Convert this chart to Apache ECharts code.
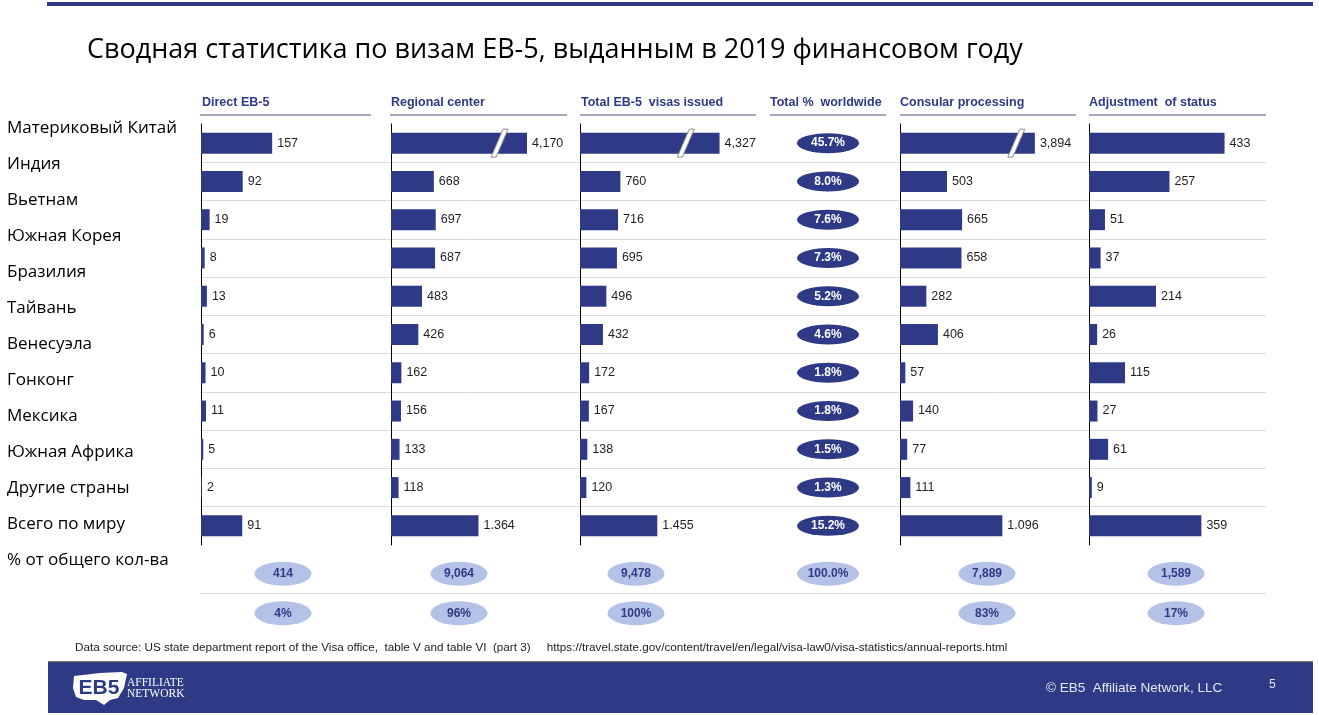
<!DOCTYPE html>
<html>
<head>
<meta charset="utf-8">
<script src="https://cdn.jsdelivr.net/npm/echarts@6/dist/echarts.min.js"></script>
<style>
  html, body { margin: 0; padding: 0; background: #fff; }
  #chart { width: 1319px; height: 715px; }
</style>
</head>
<body>
<div id="chart"></div>
<script>
// EB-5 visas, FY2019 summary slide

const countries = ['Материковый Китай', 'Индия', 'Вьетнам', 'Южная Корея', 'Бразилия', 'Тайвань',
  'Венесуэла', 'Гонконг', 'Мексика', 'Южная Африка', 'Другие страны'];
const summaryLabels = ['Всего по миру', '% от общего кол-ва'];
const columnNames = ['Direct EB-5', 'Regional center', 'Total EB-5  visas issued',
  'Total %  worldwide', 'Consular processing', 'Adjustment  of status'];

const directEB5      = [157, 92, 19, 8, 13, 6, 10, 11, 5, 2, 91];
const regionalCenter = [4170, 668, 697, 687, 483, 426, 162, 156, 133, 118, 1364];
const totalIssued    = [4327, 760, 716, 695, 496, 432, 172, 167, 138, 120, 1455];
const pctWorldwide   = [45.7, 8.0, 7.6, 7.3, 5.2, 4.6, 1.8, 1.8, 1.5, 1.3, 15.2];
const consular       = [3894, 503, 665, 658, 282, 406, 57, 140, 77, 111, 1096];
const adjustment     = [433, 257, 51, 37, 214, 26, 115, 27, 61, 9, 359];

const totals = [414, 9064, 9478, 100.0, 7889, 1589];
const shares = [4, 96, 100, null, 83, 17];

const NAVY = '#2e3a86';
const LIGHT = '#b4c2e8';
const NARROW = "'Liberation Sans Narrow', 'Liberation Sans', Arial, sans-serif";
const ARIAL = "'Liberation Sans', Arial, sans-serif";

const chart = echarts.init(document.getElementById('chart'));

const grid = [], xAxis = [], yAxis = [], series = [];

function addGrid(g, x, y) {
  grid.push(Object.assign({ outerBoundsMode: 'none', containLabel: false }, g));
  const gi = grid.length - 1;
  xAxis.push(Object.assign({ gridIndex: gi, show: false }, x));
  yAxis.push(Object.assign({ gridIndex: gi }, y));
  return gi;
}

function fmtNum(v, i) {
  // last row of the slide uses '.' as thousands separator
  const sep = i === countries.length - 1 ? '.' : ',';
  return String(v).replace(/\B(?=(\d{3})+(?!\d))/g, sep);
}

const hiddenCat = { type: 'category', show: false };

// row labels on the left
addGrid({ left: 200, top: 110, width: 1, height: 468 },
  { type: 'value' },
  {
    type: 'category', inverse: true, data: countries.concat(summaryLabels),
    axisLine: { show: false }, axisTick: { show: false },
    axisLabel: { align: 'left', margin: 193, fontSize: 17, color: '#000', fontFamily: "'Open Sans', sans-serif" }
  });

// light separators between rows
const sepY = {
  type: 'category', inverse: true, axisLine: { show: false }, axisTick: { show: false },
  axisLabel: { show: false },
  splitLine: { show: true, showMinLine: false, showMaxLine: false, lineStyle: { color: '#d9d9d9', width: 1 } }
};
addGrid({ left: 200, top: 124, width: 1066, height: 421 }, { type: 'value' },
  Object.assign({ data: countries }, sepY));
addGrid({ left: 200, top: 554, width: 1066, height: 79 }, { type: 'value' },
  Object.assign({ data: summaryLabels }, sepY));

// bar columns
const barCols = [
  { data: directEB5, left: 201, max: 375 },
  { data: regionalCenter, left: 391, max: 4700, brk: [1700, 3750] },
  { data: totalIssued, left: 580, max: 4900, brk: [2000, 3700] },
  { data: consular, left: 900, max: 4270, brk: [1250, 3700] },
  { data: adjustment, left: 1089, max: 543 }
];

barCols.forEach(col => {
  const x = { type: 'value', min: 0, max: col.max };
  if (col.brk) {
    x.breaks = [{ start: col.brk[0], end: col.brk[1], gap: 0 }];
    x.breakArea = { show: false };
  }
  const gi = addGrid({ left: col.left, top: 124, width: 170, height: 421 }, x, {
    type: 'category', inverse: true, data: countries,
    axisLine: { show: true, lineStyle: { color: '#000', width: 1 } },
    axisTick: { show: false }, axisLabel: { show: false }
  });
  series.push({
    type: 'bar', xAxisIndex: gi, yAxisIndex: gi, data: col.data, barWidth: 21,
    itemStyle: { color: NAVY },
    label: {
      show: true, position: 'right', distance: 5, fontSize: 12.5, color: '#1f1f1f', fontFamily: ARIAL,
      formatter: p => fmtNum(p.value, p.dataIndex)
    }
  });
  if (col.brk) {
    series.push({
      type: 'custom', xAxisIndex: gi, yAxisIndex: gi, z: 5,
      data: col.data.flatMap((v, i) => v > col.brk[1] ? [[col.brk[0], i]] : []),
      renderItem: (params, api) => {
        const p = api.coord([api.value(0), api.value(1)]);
        return {
          type: 'polygon',
          shape: { points: [[p[0] - 9, p[1] + 14], [p[0] + 3, p[1] - 14], [p[0] + 8, p[1] - 14], [p[0] - 4, p[1] + 14]] },
          style: { fill: '#fff', stroke: '#8c8c8c', lineWidth: 1 }
        };
      }
    });
  }
});

// % worldwide column (dark ellipses)
const pg = addGrid({ left: 797, top: 124, width: 62, height: 421 },
  { type: 'category', show: false, data: ['pct'] },
  Object.assign({ inverse: true, data: countries }, hiddenCat));
series.push({
  type: 'scatter', xAxisIndex: pg, yAxisIndex: pg, symbol: 'circle', symbolSize: [62, 20],
  data: pctWorldwide.map((v, i) => [0, i, v]),
  itemStyle: { color: NAVY, opacity: 1 },
  label: {
    show: true, position: 'inside', color: '#fff', fontWeight: 'bold', fontSize: 12, fontFamily: ARIAL,
    formatter: p => p.value[2].toFixed(1) + '%'
  }
});

// totals / shares rows (light ellipses)
const bottomCenters = [283, 459, 636, 828, 987, 1176];
bottomCenters.forEach((cx, c) => {
  const gi = addGrid({ left: cx - 30, top: 554, width: 60, height: 79 },
    { type: 'category', show: false, data: ['c'] },
    Object.assign({ inverse: true, data: summaryLabels }, hiddenCat));
  const pts = [[0, 0, totals[c], c === 3 ? 'pct' : 'num']];
  if (shares[c] != null) pts.push([0, 1, shares[c], 'share']);
  series.push({
    type: 'scatter', xAxisIndex: gi, yAxisIndex: gi, symbol: 'circle',
    symbolSize: c === 3 ? [62, 24] : [57, 24],
    data: pts,
    itemStyle: { color: LIGHT, opacity: 1 },
    label: {
      show: true, position: 'inside', color: NAVY, fontWeight: 'bold', fontSize: 12, fontFamily: NARROW,
      formatter: p => p.value[3] === 'pct' ? p.value[2].toFixed(1) + '%'
        : p.value[3] === 'share' ? p.value[2] + '%' : fmtNum(p.value[2], 0)
    }
  });
});

// slide decoration: headers, title, footer
const headerX = [202, 391, 581, 770, 900, 1089];
const underline = [[200, 371], [390, 567], [580, 756], [770, 886], [900, 1076], [1089, 1266]];
const graphic = [
  { type: 'rect', shape: { x: 47, y: 2, width: 1266, height: 4 }, style: { fill: NAVY } },
  { type: 'text', x: 87, y: 50, style: { text: 'Сводная статистика по визам EB-5, выданным в 2019 финансовом году',
      font: "27px 'Open Sans', sans-serif", fill: '#000', textVerticalAlign: 'middle' } },
  { type: 'text', x: 75, y: 648, style: {
      text: 'Data source: US state department report of the Visa office,  table V and table VI  (part 3)     https://travel.state.gov/content/travel/en/legal/visa-law0/visa-statistics/annual-reports.html',
      font: "11.7px " + ARIAL, fill: '#222', textVerticalAlign: 'middle' } },
  { type: 'rect', shape: { x: 48, y: 662, width: 1265, height: 51 }, style: { fill: NAVY } },
  { type: 'line', shape: { x1: 48, y1: 662, x2: 1313, y2: 662 }, style: { stroke: '#4a4a5a', lineWidth: 1.5 } },
  { type: 'text', x: 1046, y: 688, style: { text: '© EB5  Affiliate Network, LLC', font: "13.5px " + ARIAL,
      fill: '#e4e7f5', textVerticalAlign: 'middle' } },
  { type: 'text', x: 1269, y: 685, style: { text: '5', font: "12px " + ARIAL, fill: '#e4e7f5', textVerticalAlign: 'middle' } },
  // logo
  { type: 'polygon', shape: { points: [[74, 676], [100, 673], [122, 672], [127, 674], [124, 688], [118, 698], [110, 700],
      [104, 705], [96, 700], [84, 700], [76, 697], [73, 688]] }, style: { fill: '#fff' } },
  { type: 'text', x: 99, y: 688, style: { text: 'EB5', font: "bold 21px " + NARROW, fill: NAVY,
      textAlign: 'center', textVerticalAlign: 'middle' } },
  { type: 'text', x: 127, y: 683, style: { text: 'AFFILIATE', font: "11.5px 'Liberation Serif', serif", fill: '#fff', textVerticalAlign: 'middle' } },
  { type: 'text', x: 127, y: 694, style: { text: 'NETWORK', font: "11.5px 'Liberation Serif', serif", fill: '#fff', textVerticalAlign: 'middle' } }
];
columnNames.forEach((name, i) => {
  graphic.push({ type: 'text', x: headerX[i], y: 103, style: { text: name, font: "bold 12.5px " + NARROW,
    fill: NAVY, textVerticalAlign: 'middle' } });
  graphic.push({ type: 'line', shape: { x1: underline[i][0], y1: 115, x2: underline[i][1], y2: 115 },
    style: { stroke: '#4d5283', lineWidth: 1 } });
});

chart.setOption({
  animation: false,
  grid: grid,
  xAxis: xAxis,
  yAxis: yAxis,
  series: series,
  graphic: graphic
});
</script>
</body>
</html>
